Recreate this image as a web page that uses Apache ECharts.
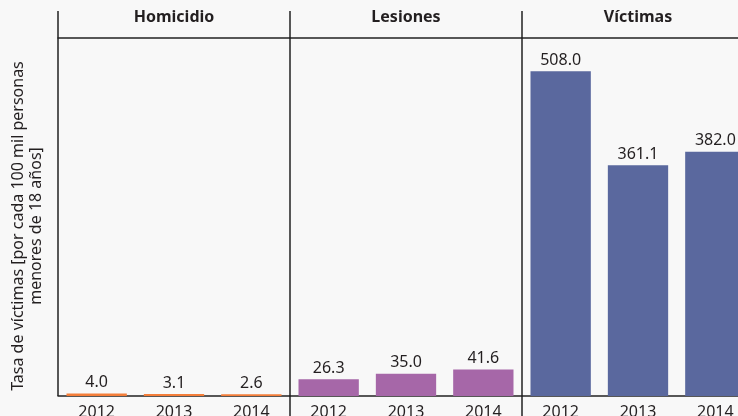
<!DOCTYPE html>
<html>
<head>
<meta charset="utf-8">
<script src="https://cdn.jsdelivr.net/npm/echarts@6/dist/echarts.min.js"></script>
<style>
  html, body { margin: 0; padding: 0; background: #f8f8f8; overflow: hidden; }
  #chart { width: 760px; height: 416px; }
</style>
</head>
<body>
<div id="chart"></div>
<script>
const years = ['2012', '2013', '2014']
const panels = ['Homicidio', 'Lesiones', 'Víctimas']
const homicidio = [4.0, 3.1, 2.6]
const lesiones = [26.3, 35.0, 41.6]
const victimas = [508.0, 361.1, 382.0]
const seriesValues = [homicidio, lesiones, victimas]

const FONT = "'Noto Sans', sans-serif"
const COLORS = ['#F47E3A', '#A667A8', '#5A689E']
const TEXT = '#231f20'
const LINE = '#222'

// the last panel runs past the 738px window, like in the original
const PANEL_LEFT = 58
const PANEL_W = 232
const TOP = 38
const BOTTOM = 20
const Y_MAX = 560

const chart = echarts.init(document.getElementById('chart'))

const grid = panels.map((p, i) => ({
  left: PANEL_LEFT + i * PANEL_W, width: PANEL_W, top: TOP, bottom: BOTTOM,
  outerBoundsMode: 'none', containLabel: false,
}))

const xAxis = []
panels.forEach((p, i) => {
  xAxis.push({
    type: 'category', gridIndex: i, data: years, position: 'bottom',
    axisLine: { lineStyle: { color: LINE, width: 1.5 } },
    axisTick: { show: false },
    axisLabel: { fontFamily: FONT, fontSize: 16, color: TEXT, margin: 8 },
  })
  xAxis.push({
    type: 'category', gridIndex: i, data: years, position: 'top',
    axisLine: { lineStyle: { color: LINE, width: 1.5 } },
    axisTick: { show: false },
    axisLabel: { show: false },
    name: p, nameLocation: 'middle', nameGap: 13,
    nameTextStyle: { fontFamily: FONT, fontSize: 16, fontWeight: 'bold', color: TEXT },
  })
})

const yAxis = panels.map((p, i) => ({
  type: 'value', gridIndex: i, min: 0, max: Y_MAX,
  axisLine: { show: false }, axisTick: { show: false },
  axisLabel: { show: false }, splitLine: { show: false },
  name: i === 0 ? 'Tasa de víctimas [por cada 100 mil personas\nmenores de 18 años]' : '',
  nameLocation: 'middle', nameGap: 13, nameRotate: 90,
  nameTextStyle: { fontFamily: FONT, fontSize: 16, color: TEXT, lineHeight: 18, align: 'center', padding: [0, 18, 0, 0] },
}))

const series = seriesValues.map((vals, i) => ({
  type: 'bar', xAxisIndex: i * 2, yAxisIndex: i, data: vals,
  barCategoryGap: '22%',
  itemStyle: { color: COLORS[i] },
  label: {
    show: true, position: 'top', distance: 3,
    fontFamily: FONT, fontSize: 16, color: TEXT,
    formatter: d => d.value.toFixed(1),
  },
}))

const vline = (x, y1, y2) => ({
  type: 'line', shape: { x1: x, y1: y1, x2: x, y2: y2 },
  style: { stroke: LINE, lineWidth: 1.5 }, z: 10,
})

chart.setOption({
  backgroundColor: '#f8f8f8',
  animation: false,
  grid, xAxis, yAxis, series,
  graphic: [
    vline(PANEL_LEFT, 11, 396),
    vline(PANEL_LEFT + PANEL_W, 11, 416),
    vline(PANEL_LEFT + 2 * PANEL_W, 11, 416),
  ],
})
</script>
</body>
</html>
